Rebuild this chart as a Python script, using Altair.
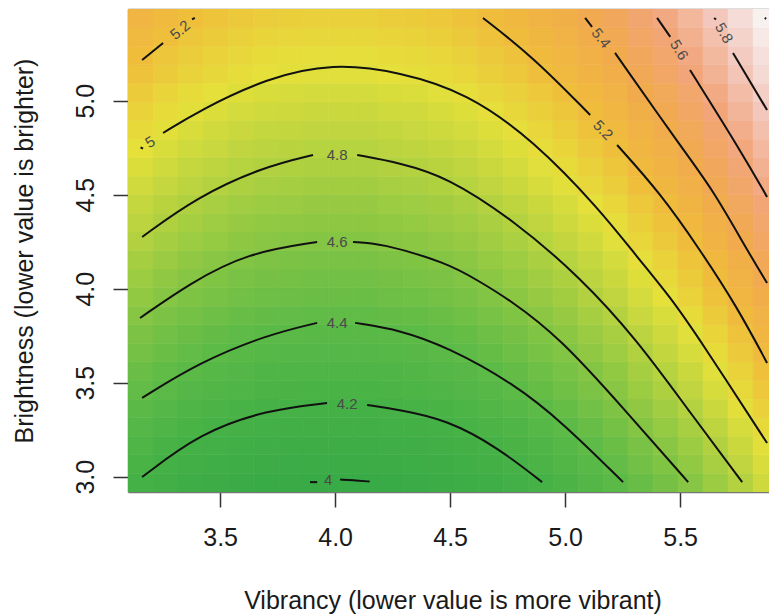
import altair as alt
import pandas as pd

# ---------------- data ----------------
# grid centres (Vibrancy = x, Brightness = y)
vibrancy = [3.154, 3.263, 3.371, 3.480, 3.589, 3.698, 3.806, 3.915, 4.024, 4.132,
            4.241, 4.350, 4.458, 4.567, 4.676, 4.785, 4.893, 5.002, 5.111, 5.219,
            5.328, 5.437, 5.545, 5.654, 5.763, 5.872]
brightness = [2.968, 3.067, 3.166, 3.264, 3.363, 3.462, 3.561, 3.660, 3.758, 3.857,
              3.956, 4.055, 4.154, 4.252, 4.351, 4.450, 4.549, 4.648, 4.746, 4.845,
              4.944, 5.043, 5.142, 5.240, 5.339, 5.438]

# estimated surface value of every cell, one row per brightness value (bottom to top)
surface = [
    [4.19,4.14,4.10,4.07,4.04,4.02,4.01,4.00,4.00,4.00,4.02,4.03,4.05,4.08,4.12,4.16,4.21,4.26,4.32,4.38,4.46,4.53,4.61,4.70,4.80,4.90],
    [4.24,4.19,4.15,4.12,4.09,4.07,4.06,4.05,4.05,4.05,4.07,4.08,4.10,4.13,4.17,4.21,4.26,4.31,4.37,4.43,4.51,4.58,4.66,4.75,4.85,4.95],
    [4.28,4.23,4.19,4.16,4.13,4.11,4.10,4.09,4.09,4.09,4.11,4.12,4.14,4.17,4.21,4.25,4.30,4.35,4.41,4.47,4.55,4.62,4.70,4.79,4.89,4.99],
    [4.33,4.28,4.24,4.21,4.18,4.16,4.15,4.14,4.14,4.14,4.16,4.17,4.19,4.22,4.26,4.30,4.35,4.40,4.46,4.52,4.60,4.67,4.75,4.84,4.94,5.04],
    [4.38,4.33,4.29,4.26,4.23,4.21,4.20,4.19,4.19,4.19,4.21,4.22,4.24,4.27,4.31,4.35,4.40,4.45,4.51,4.57,4.65,4.72,4.80,4.89,4.99,5.09],
    [4.43,4.38,4.34,4.31,4.28,4.26,4.25,4.24,4.24,4.24,4.26,4.27,4.29,4.32,4.36,4.40,4.45,4.50,4.56,4.62,4.70,4.77,4.85,4.94,5.04,5.14],
    [4.47,4.42,4.38,4.35,4.32,4.30,4.29,4.28,4.28,4.28,4.30,4.31,4.33,4.36,4.40,4.44,4.49,4.54,4.60,4.66,4.74,4.81,4.89,4.98,5.08,5.18],
    [4.52,4.47,4.43,4.40,4.37,4.35,4.34,4.33,4.33,4.33,4.35,4.36,4.38,4.41,4.45,4.49,4.54,4.59,4.65,4.71,4.79,4.86,4.94,5.03,5.13,5.23],
    [4.56,4.51,4.47,4.44,4.41,4.39,4.38,4.37,4.37,4.37,4.39,4.40,4.42,4.45,4.49,4.53,4.58,4.63,4.69,4.75,4.83,4.90,4.98,5.07,5.17,5.27],
    [4.61,4.56,4.52,4.49,4.46,4.44,4.43,4.42,4.42,4.42,4.44,4.45,4.47,4.50,4.54,4.58,4.63,4.68,4.74,4.80,4.88,4.95,5.03,5.12,5.22,5.32],
    [4.66,4.61,4.57,4.54,4.51,4.49,4.48,4.47,4.47,4.47,4.49,4.50,4.52,4.55,4.59,4.63,4.68,4.73,4.79,4.85,4.93,5.00,5.08,5.17,5.27,5.37],
    [4.70,4.65,4.61,4.58,4.55,4.53,4.52,4.51,4.51,4.51,4.53,4.54,4.56,4.59,4.63,4.67,4.72,4.77,4.83,4.89,4.97,5.04,5.12,5.21,5.31,5.41],
    [4.74,4.69,4.65,4.62,4.59,4.57,4.56,4.55,4.55,4.55,4.57,4.58,4.60,4.63,4.67,4.71,4.76,4.81,4.87,4.93,5.01,5.08,5.16,5.25,5.35,5.45],
    [4.79,4.74,4.70,4.67,4.64,4.62,4.61,4.60,4.60,4.60,4.62,4.63,4.65,4.68,4.72,4.76,4.81,4.86,4.92,4.98,5.06,5.13,5.21,5.30,5.40,5.50],
    [4.83,4.78,4.74,4.71,4.68,4.66,4.65,4.64,4.64,4.64,4.66,4.67,4.69,4.72,4.76,4.80,4.85,4.90,4.96,5.02,5.10,5.17,5.25,5.34,5.44,5.54],
    [4.87,4.82,4.78,4.75,4.72,4.70,4.69,4.68,4.68,4.68,4.70,4.71,4.73,4.76,4.80,4.84,4.89,4.94,5.00,5.06,5.14,5.21,5.29,5.38,5.48,5.58],
    [4.92,4.87,4.83,4.80,4.77,4.75,4.74,4.73,4.73,4.73,4.75,4.76,4.78,4.81,4.85,4.89,4.94,4.99,5.05,5.11,5.19,5.26,5.34,5.43,5.53,5.63],
    [4.96,4.91,4.87,4.84,4.81,4.79,4.78,4.77,4.77,4.77,4.79,4.80,4.82,4.85,4.89,4.93,4.98,5.03,5.09,5.15,5.23,5.30,5.38,5.47,5.57,5.67],
    [5.00,4.95,4.91,4.88,4.85,4.83,4.82,4.81,4.81,4.81,4.83,4.84,4.86,4.89,4.93,4.97,5.02,5.07,5.13,5.19,5.27,5.34,5.42,5.51,5.61,5.71],
    [5.04,4.99,4.95,4.92,4.89,4.87,4.86,4.85,4.85,4.85,4.87,4.88,4.90,4.93,4.97,5.01,5.06,5.11,5.17,5.23,5.31,5.38,5.46,5.55,5.65,5.75],
    [5.08,5.03,4.99,4.96,4.93,4.91,4.90,4.89,4.89,4.89,4.91,4.92,4.94,4.97,5.01,5.05,5.10,5.15,5.21,5.27,5.35,5.42,5.50,5.59,5.69,5.79],
    [5.12,5.07,5.03,5.00,4.97,4.95,4.94,4.93,4.93,4.93,4.95,4.96,4.98,5.01,5.05,5.09,5.14,5.19,5.25,5.31,5.39,5.46,5.54,5.63,5.73,5.83],
    [5.17,5.12,5.08,5.05,5.02,5.00,4.99,4.98,4.98,4.98,5.00,5.01,5.03,5.06,5.10,5.14,5.19,5.24,5.30,5.36,5.44,5.51,5.59,5.68,5.78,5.88],
    [5.20,5.15,5.11,5.08,5.05,5.03,5.02,5.01,5.01,5.01,5.03,5.04,5.06,5.09,5.13,5.17,5.22,5.27,5.33,5.39,5.47,5.54,5.62,5.71,5.81,5.91],
    [5.24,5.19,5.15,5.12,5.09,5.07,5.06,5.05,5.05,5.05,5.07,5.08,5.10,5.13,5.17,5.21,5.26,5.31,5.37,5.43,5.51,5.58,5.66,5.75,5.85,5.95],
    [5.28,5.23,5.19,5.16,5.13,5.11,5.10,5.09,5.09,5.09,5.11,5.12,5.14,5.17,5.21,5.25,5.30,5.35,5.41,5.47,5.55,5.62,5.70,5.79,5.89,5.99],
]

# contour lines: level -> list of segments (gaps are where the labels sit)
contours = {
    "4": [[(3.891, 2.971), (3.922, 2.971)],
          [(4.022, 2.985), (4.090, 2.980), (4.150, 2.974)]],
    "4.2": [[(3.161, 2.998), (3.413, 3.233), (3.704, 3.355), (3.965, 3.392)],
            [(4.139, 3.381), (4.283, 3.355), (4.487, 3.302), (4.704, 3.158), (4.900, 2.971)]],
    "4.4": [[(3.161, 3.419), (3.413, 3.610), (3.704, 3.754), (3.922, 3.818)],
            [(4.087, 3.818), (4.283, 3.780), (4.487, 3.690), (4.774, 3.498), (4.991, 3.286), (5.252, 2.971)]],
    "4.6": [[(3.152, 3.844), (3.370, 4.030), (3.617, 4.190), (3.922, 4.248)],
            [(4.078, 4.248), (4.196, 4.243), (4.487, 4.137), (4.617, 4.046), (4.761, 3.940),
             (4.978, 3.738), (5.252, 3.366), (5.535, 2.971)]],
    "4.8": [[(3.161, 4.275), (3.400, 4.488), (3.687, 4.647), (3.904, 4.711)],
            [(4.096, 4.711), (4.283, 4.669), (4.487, 4.594), (4.774, 4.366), (5.065, 4.062),
             (5.313, 3.727), (5.535, 3.355), (5.770, 2.971)]],
    "5": [[(3.154, 4.752), (3.165, 4.745)],
          [(3.252, 4.828), (3.413, 4.950), (3.704, 5.121), (3.991, 5.200), (4.283, 5.153),
           (4.574, 5.041), (4.861, 4.791), (5.152, 4.419), (5.313, 4.168), (5.457, 3.956),
           (5.587, 3.727), (5.878, 3.179)]],
    "5.2": [[(3.161, 5.216), (3.252, 5.307)],
            [(3.378, 5.432), (3.390, 5.440)],
            [(4.643, 5.440), (4.861, 5.232), (5.109, 4.924)],
            [(5.226, 4.764), (5.413, 4.509), (5.587, 4.206), (5.748, 3.902), (5.878, 3.605)]],
    "5.4": [[(5.087, 5.440), (5.117, 5.392)],
            [(5.217, 5.254), (5.513, 4.738), (5.643, 4.525), (5.791, 4.206), (5.878, 4.030)]],
    "5.6": [[(5.400, 5.440), (5.457, 5.339)],
            [(5.543, 5.163), (5.761, 4.738), (5.878, 4.488)]],
    "5.8": [[(5.648, 5.440), (5.656, 5.432)],
            [(5.730, 5.254), (5.878, 4.950)]],
    "6": [[(5.868, 5.440), (5.874, 5.435)]],
}

label_text = ["4", "4.2", "4.4", "4.6", "4.8", "5", "5.2", "5.2", "5.4", "5.6", "5.8"]
label_x = [3.970, 4.052, 4.009, 4.009, 4.009, 3.196, 3.326, 5.165, 5.157, 5.496, 5.691]
label_y = [2.982, 3.387, 3.818, 4.248, 4.711, 4.780, 5.376, 4.844, 5.333, 5.270, 5.360]
label_angle = [0, 0, 0, 0, 0, 328, 321, 46, 52, 58, 60]

x_ticks = [3.5, 4.0, 4.5, 5.0, 5.5]
y_ticks = [3.0, 3.5, 4.0, 4.5, 5.0]

color_stops = [4.0, 4.2, 4.4, 4.6, 4.8, 5.0, 5.2, 5.4, 5.6, 5.8, 6.0]
color_range = ["#38aa46", "#45b146", "#5cba47", "#84c544", "#b4d240", "#e5e03a",
               "#f0bd3b", "#f1aa4d", "#f2a57a", "#f3c9be", "#f7f3f3"]

# ---------------- tables ----------------
def edges(c):
    mids = [(a + b) / 2 for a, b in zip(c[:-1], c[1:])]
    lo = [c[0] - (mids[0] - c[0])] + mids
    hi = mids + [c[-1] + (c[-1] - mids[-1])]
    return lo, hi

xlo, xhi = edges(vibrancy)
ylo, yhi = edges(brightness)

cell_rows = []
for j, row in enumerate(surface):
    for i, z in enumerate(row):
        cell_rows.append({"x0": xlo[i], "x1": xhi[i], "y0": ylo[j], "y1": yhi[j], "z": z})
cells = pd.DataFrame(cell_rows)

line_rows = []
for level, segs in contours.items():
    for s, seg in enumerate(segs):
        for k, (x, y) in enumerate(seg):
            line_rows.append({"seg": f"{level}_{s}", "k": k, "x": x, "y": y})
lines = pd.DataFrame(line_rows)

labels = pd.DataFrame({"t": label_text, "x": label_x, "y": label_y, "a": label_angle})

FONT = "Liberation Sans"
xdom = [xlo[0], xlo[0] + 641 / 230]
ydom = [ylo[0], yhi[-1]]
xs = alt.Scale(domain=xdom, nice=False, zero=False)
ys = alt.Scale(domain=ydom, nice=False, zero=False)
cscale = alt.Scale(domain=color_stops, range=color_range, interpolate="rgb")

y_axis = alt.Axis(values=y_ticks, format=".1f", title="Brightness (lower value is brighter)",
                  labelAngle=270, labelAlign="center", labelBaseline="alphabetic",
                  labelPadding=20, tickSize=15, tickWidth=1.5, tickColor="#333",
                  domainColor="#777", domainWidth=1.5, grid=False,
                  labelFont=FONT, labelFontSize=25, labelColor="#1a1a1a",
                  titleFont=FONT, titleFontSize=25, titleFontWeight="normal", titleColor="#1a1a1a",
                  titleAngle=270, titleAlign="center", titleBaseline="alphabetic",
                  titleX=-96, titleY=241.5)

heat = alt.Chart(cells).mark_rect(clip=True, strokeWidth=0.6).encode(
    x=alt.X("x0:Q", scale=xs,
            axis=alt.Axis(values=x_ticks, format=".1f", title="Vibrancy (lower value is more vibrant)",
                          labelBaseline="alphabetic", labelPadding=38, tickSize=15, tickWidth=1.5,
                          tickColor="#333", domainColor="#777", domainWidth=1.5, grid=False,
                          labelFont=FONT, labelFontSize=25, labelColor="#1a1a1a",
                          titleFont=FONT, titleFontSize=25, titleFontWeight="normal",
                          titleColor="#1a1a1a", titleAlign="center", titleBaseline="alphabetic",
                          titleX=324.5, titleY=116, labelFlush=False)),
    x2="x1:Q",
    y=alt.Y("y0:Q", scale=ys, axis=y_axis),
    y2="y1:Q",
    color=alt.Color("z:Q", scale=cscale, legend=None),
    stroke=alt.Stroke("z:Q", scale=cscale, legend=None),
)

contour_lines = alt.Chart(lines).mark_line(clip=True, color="#111111", strokeWidth=2,
                                             interpolate="basis").encode(
    x=alt.X("x:Q", scale=xs,
            axis=alt.Axis(orient="top", labels=False, ticks=False, title=None, grid=False,
                          domainColor="#777", domainWidth=1.5)),
    y=alt.Y("y:Q", scale=ys, axis=y_axis),
    detail="seg:N",
    order="k:Q",
)

contour_labels = alt.Chart(labels).mark_text(font=FONT, fontSize=15, color="#4a4a4a",
                                             align="center", baseline="middle").encode(
    x=alt.X("x:Q", scale=xs, axis=None),
    y=alt.Y("y:Q", scale=ys, axis=y_axis),
    text="t:N",
    angle=alt.Angle("a:Q", scale=None),
)

chart = alt.layer(heat, contour_lines, contour_labels).resolve_axis(x="independent").properties(
    width=641, height=483,
    padding={"left": 128, "top": 9, "right": 0, "bottom": 122},
    autosize="none",
    background="white",
).configure_view(strokeWidth=0)

chart.save("out.html", embed_options={"renderer": "svg", "actions": False})
